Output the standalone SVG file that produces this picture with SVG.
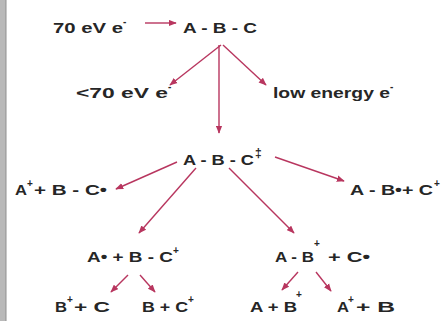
<svg xmlns="http://www.w3.org/2000/svg" width="442" height="321" viewBox="0 0 442 321">
<defs>
<marker id="ah" viewBox="0 0 10 8" refX="9" refY="4" markerWidth="8" markerHeight="7" markerUnits="userSpaceOnUse" orient="auto">
<path d="M0,0 L10,4 L0,8 z" fill="#b8365f"/>
</marker>
<style>
text{font-family:"Liberation Sans",Arial,sans-serif;font-size:15px;font-weight:bold;fill:#262626;}
.s{font-size:10px;}
.c line{stroke:#b8365f;stroke-width:1.4;marker-end:url(#ah);}
</style>
</defs>
<rect x="0" y="0" width="442" height="321" fill="#ffffff"/>
<rect x="0" y="0" width="6" height="321" fill="#b9b9b9"/>
<line x1="6" y1="0" x2="6" y2="321" stroke="#8f8f8f" stroke-width="1"/>
<g class="c" id="connectors">
<line x1="145" y1="23" x2="176" y2="23"/>
<line x1="221" y1="45" x2="170" y2="85"/>
<line x1="219" y1="45" x2="219" y2="133"/>
<line x1="223" y1="45" x2="266" y2="85"/>
<line x1="177" y1="162" x2="116" y2="189"/>
<line x1="275" y1="157" x2="344" y2="181"/>
<line x1="196" y1="168" x2="139" y2="233"/>
<line x1="229" y1="168" x2="294" y2="233"/>
<line x1="128" y1="275" x2="111" y2="292"/>
<line x1="140" y1="275" x2="155" y2="292"/>
<line x1="298" y1="272" x2="282" y2="290"/>
<line x1="316" y1="272" x2="331" y2="291"/>
</g>
<g id="n1"><text x="53" y="33" textLength="70" lengthAdjust="spacingAndGlyphs">70 eV e</text><text class="s" x="123" y="25">-</text></g>
<g id="n2"><text x="183" y="33" textLength="74" lengthAdjust="spacingAndGlyphs">A - B - C</text></g>
<g id="n3"><text x="76" y="98" textLength="92" lengthAdjust="spacingAndGlyphs">&lt;70 eV e</text><text class="s" x="168" y="90">-</text></g>
<g id="n4"><text x="273" y="98" textLength="117" lengthAdjust="spacingAndGlyphs">low energy e</text><text class="s" x="390" y="90">-</text></g>
<g id="n5"><text x="183" y="165" textLength="71" lengthAdjust="spacingAndGlyphs">A - B - C</text><text class="s" x="255" y="157" style="font-size:12px">‡</text></g>
<g id="n6"><text x="15" y="195" textLength="12" lengthAdjust="spacingAndGlyphs">A</text><text class="s" x="27" y="187">+</text><text x="34" y="195" textLength="73" lengthAdjust="spacingAndGlyphs">+ B - C•</text></g>
<g id="n7"><text x="350" y="195" textLength="83" lengthAdjust="spacingAndGlyphs">A - B•+ C</text><text class="s" x="434" y="187">+</text></g>
<g id="n8"><text x="87" y="262" textLength="86" lengthAdjust="spacingAndGlyphs">A• + B - C</text><text class="s" x="173" y="254">+</text></g>
<g id="n9"><text x="275" y="262" textLength="39" lengthAdjust="spacingAndGlyphs">A - B</text><text class="s" x="314" y="247">+</text><text x="328" y="262" textLength="42" lengthAdjust="spacingAndGlyphs">+ C•</text></g>
<g id="n10"><text x="55" y="312" textLength="12" lengthAdjust="spacingAndGlyphs">B</text><text class="s" x="67" y="303">+</text><text x="74" y="312" textLength="36" lengthAdjust="spacingAndGlyphs">+ C</text></g>
<g id="n11"><text x="142" y="312" textLength="46" lengthAdjust="spacingAndGlyphs">B + C</text><text class="s" x="188" y="303">+</text></g>
<g id="n12"><text x="250" y="312" textLength="47" lengthAdjust="spacingAndGlyphs">A + B</text><text class="s" x="296" y="298">+</text></g>
<g id="n13"><text x="337" y="312" textLength="12" lengthAdjust="spacingAndGlyphs">A</text><text class="s" x="348" y="303">+</text><text x="356" y="312" textLength="39" lengthAdjust="spacingAndGlyphs">+ B</text></g>
</svg>
